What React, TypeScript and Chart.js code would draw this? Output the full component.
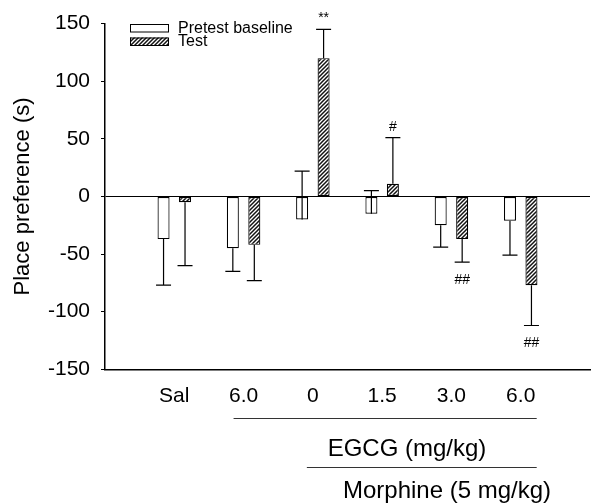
import { useEffect, useRef } from 'react';
import { Chart, registerables } from 'chart.js';

Chart.register(...registerables);

const categories = ['Sal', '6.0', '0', '1.5', '3.0', '6.0'];
const seriesNames = ['Pretest baseline', 'Test'];
const pretestValues = [-37, -45, -20, -15, -25, -21];
const pretestErrors = [-40, -20, 42, 20, -19, -30];
const testValues = [-5, -42, 120, 11, -37, -77];
const testErrors = [-55, -31, 25, 40, -20, -35];
const testMarks = ['', '', '**', '#', '##', '##'];
const yMin = -150;
const yMax = 150;
const yStep = 50;
const yTitle = 'Place preference (s)';
const groupLabel1 = 'EGCG (mg/kg)';
const groupLabel2 = 'Morphine (5 mg/kg)';

const FONT = "'Liberation Sans', Arial, Helvetica, sans-serif";

function makeHatch(): CanvasPattern | string {
  const c = document.createElement('canvas');
  const p = 4;
  c.width = p;
  c.height = p;
  const g = c.getContext('2d');
  if (!g) return '#888';
  g.fillStyle = '#ffffff';
  g.fillRect(0, 0, p, p);
  g.strokeStyle = '#111';
  g.lineWidth = 1.5;
  g.beginPath();
  g.moveTo(0, p);
  g.lineTo(p, 0);
  g.moveTo(-1, 1);
  g.lineTo(1, -1);
  g.moveTo(p - 1, p + 1);
  g.lineTo(p + 1, p - 1);
  g.stroke();
  return g.createPattern(c, 'repeat') || '#888';
}

export default function App() {
  const ref = useRef<HTMLCanvasElement | null>(null);

  useEffect(() => {
    if (!ref.current) return;
    const hatch = makeHatch();
    const labels = ['', ...categories, ''];
    const pad = (a: number[]) => [null, ...a, null];
    const errs = [pretestErrors, testErrors];

    const extras = {
      id: 'extras',
      afterDatasetsDraw(chart: any) {
        const ctx = chart.ctx;
        const y = chart.scales.y;
        ctx.save();
        ctx.strokeStyle = '#000';
        ctx.lineWidth = 1.2;
        [0, 1].forEach((di) => {
          const meta = chart.getDatasetMeta(di);
          const vals = chart.data.datasets[di].data;
          meta.data.forEach((bar: any, i: number) => {
            const v = vals[i];
            if (v === null || v === undefined) return;
            const e = errs[di][i - 1];
            const y0 = y.getPixelForValue(v);
            const y1 = y.getPixelForValue(v + e);
            const x = bar.x;
            ctx.beginPath();
            ctx.moveTo(x, y0);
            ctx.lineTo(x, y1);
            ctx.moveTo(x - 7.5, y1);
            ctx.lineTo(x + 7.5, y1);
            ctx.stroke();
            if (di === 1) {
              const m = testMarks[i - 1];
              if (m) {
                ctx.fillStyle = '#000';
                ctx.font = `14px ${FONT}`;
                ctx.textAlign = 'center';
                ctx.textBaseline = 'middle';
                const ty = e >= 0 ? y1 - 11 : y1 + 18;
                ctx.fillText(m, x, ty);
              }
            }
          });
        });
        ctx.restore();
      },
      afterDraw(chart: any) {
        const ctx = chart.ctx;
        const xs = chart.scales.x;
        ctx.save();
        // legend
        const lx = 130;
        const items = [
          { y: 24, fill: '#ffffff' as any },
          { y: 37.5, fill: hatch as any },
        ];
        ctx.font = `16px ${FONT}`;
        ctx.textBaseline = 'middle';
        ctx.textAlign = 'left';
        items.forEach((it, k) => {
          ctx.fillStyle = it.fill;
          ctx.fillRect(lx, it.y, 39, 8.5);
          ctx.strokeStyle = '#000';
          ctx.lineWidth = 1;
          ctx.strokeRect(lx + 0.5, it.y + 0.5, 38, 7.5);
          ctx.fillStyle = '#000';
          ctx.fillText(seriesNames[k], 178, it.y + 4.5);
        });
        // group labels
        const p2 = xs.getPixelForValue(2);
        const p3 = xs.getPixelForValue(3);
        const p6 = xs.getPixelForValue(6);
        ctx.strokeStyle = '#333';
        ctx.lineWidth = 1;
        ctx.beginPath();
        ctx.moveTo(p2 - 10, 418.5);
        ctx.lineTo(p6 + 16, 418.5);
        ctx.moveTo(p3 - 6, 467.5);
        ctx.lineTo(p6 + 16, 467.5);
        ctx.stroke();
        ctx.fillStyle = '#000';
        ctx.font = `24px ${FONT}`;
        ctx.textAlign = 'center';
        ctx.textBaseline = 'middle';
        ctx.fillText(groupLabel1, 407, 449);
        ctx.fillText(groupLabel2, 447, 491);
        ctx.restore();
      },
    };

    const chart = new Chart(ref.current, {
      type: 'bar',
      data: {
        labels,
        datasets: [
          {
            label: seriesNames[0],
            data: pad(pretestValues) as any,
            backgroundColor: '#ffffff',
            borderColor: '#000',
            borderWidth: 1.2,
            borderSkipped: false,
            categoryPercentage: 0.62,
            barPercentage: 0.56,
          },
          {
            label: seriesNames[1],
            data: pad(testValues) as any,
            backgroundColor: hatch as any,
            borderColor: '#000',
            borderWidth: 1.2,
            borderSkipped: false,
            categoryPercentage: 0.62,
            barPercentage: 0.56,
          },
        ],
      },
      options: {
        responsive: false,
        animation: false,
        layout: { padding: { top: 19.3, right: 1, bottom: 93.7, left: 0 } },
        plugins: {
          legend: { display: false },
          tooltip: { enabled: false },
        },
        scales: {
          x: {
            type: 'category',
            offset: false,
            grid: { display: false, drawTicks: false },
            border: { display: true, color: '#000', width: 1.5 },
            ticks: {
              autoSkip: false,
              maxRotation: 0,
              padding: 14,
              color: '#000',
              font: { size: 21, family: FONT },
            },
            afterFit(scale: any) {
              scale.height = 40;
            },
          },
          y: {
            min: yMin,
            max: yMax,
            ticks: {
              stepSize: yStep,
              padding: 11,
              color: '#000',
              font: { size: 21, family: FONT },
            },
            grid: {
              drawOnChartArea: true,
              color: (c: any) => (c.tick && c.tick.value === 0 ? '#000' : 'rgba(0,0,0,0)'),
              tickColor: '#000',
              tickLength: 4,
              lineWidth: 1,
            },
            border: { display: true, color: '#000', width: 1.5 },
            title: {
              display: true,
              text: yTitle,
              color: '#000',
              font: { size: 22, family: FONT },
              padding: { top: 10, bottom: 0 },
            },
            afterFit(scale: any) {
              scale.width = 105;
            },
          },
        },
      },
      plugins: [extras],
    });
    return () => chart.destroy();
  }, []);

  return (
    <div style={{ position: 'absolute', left: 0, top: 0, width: 604, height: 503, background: '#fff' }}>
      <canvas ref={ref} width={604} height={503} style={{ display: 'block' }} />
    </div>
  );
}
